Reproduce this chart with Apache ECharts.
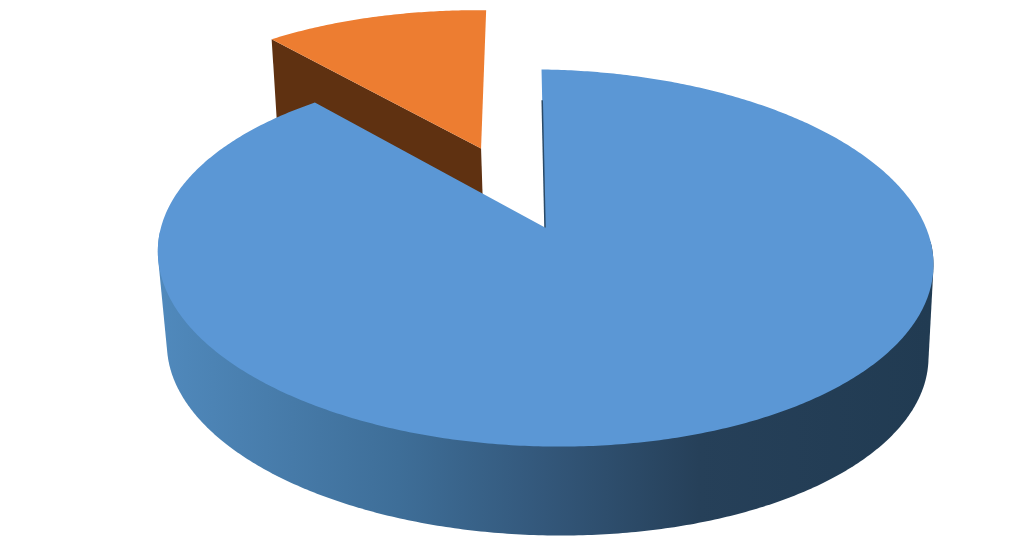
<!DOCTYPE html>
<html><head><meta charset="utf-8"><style>html,body{margin:0;padding:0;background:#fff}#c{width:1024px;height:551px}</style>
<script src="https://cdn.jsdelivr.net/npm/echarts@6/dist/echarts.min.js"></script></head>
<body><div id="c"></div><script>
const categories = ['Main share', 'Minor share'];
const values = [88.4, 11.6];
const sliceColors = ['#5B97D5', '#ED7D31'];
const sideColors = ['#2A4A68', '#5F3111'];
const explode = [0, 0.49];

const total = values.reduce((a, b) => a + b, 0);
const starts = [];
values.reduce((acc, v, i) => { starts[i] = acc; return acc + v; }, 0);

// perspective camera for the tilted disc
const CX = 545, CY = 227.5, A = 183.6, B = 382.7, C = 0.1618, D = 95.4, E = 0.018, K = 0.0833, SX = 0.022, TY = 0.012;
function proj(u, v, z) {
  const w = 1 + C * v + E * z;
  const X = B * u / w, Y = (-A * (1 - K * z) * v + D * z) / w;
  return [CX + X + SX * Y, CY + Y + TY * X];
}
function slicePoints(i) {
  const a0 = starts[i] / total * 2 * Math.PI, a1 = (starts[i] + values[i]) / total * 2 * Math.PI;
  const mid = (a0 + a1) / 2, ou = Math.sin(mid) * explode[i], ov = Math.cos(mid) * explode[i];
  const rim = (a, z, r) => proj(ou + r * Math.sin(a), ov + r * Math.cos(a), z);
  const arc = (z, f0, f1) => { const p = [], s0 = f0 === undefined ? a0 : f0, s1 = f1 === undefined ? a1 : f1; const n = Math.ceil(Math.abs(s1 - s0) / 0.01); for (let k = 0; k <= n; k++) p.push(rim(s0 + (s1 - s0) * k / n, z, 1)); return p; };
  return { a0, a1, ou, ov, rim, arc };
}
// outline of the extruded front wall: convex hull of both rims
function hull(pts) {
  const p = pts.slice().sort((a, b) => a[0] - b[0] || a[1] - b[1]);
  const cross = (o, a, b) => (a[0] - o[0]) * (b[1] - o[1]) - (a[1] - o[1]) * (b[0] - o[0]);
  const half = (list) => { const h = []; for (const q of list) { while (h.length > 1 && cross(h[h.length - 2], h[h.length - 1], q) <= 0) h.pop(); h.push(q); } h.pop(); return h; };
  return half(p).concat(half(p.reverse()));
}
const wallGradient = new echarts.graphic.LinearGradient(160, 0, 930, 0, [
  { offset: 0, color: '#5089BC' }, { offset: 0.31, color: '#3E6E98' }, { offset: 0.5, color: '#33577A' },
  { offset: 0.7, color: '#264059' }, { offset: 1, color: '#213B52' }
], true);

function renderItem(params) {
  const i = params.dataIndex, s = slicePoints(i), top = s.arc(0);
  const apexTop = proj(s.ou, s.ov, 0), apexBottom = proj(s.ou, s.ov, 1);
  const children = [];
  if (explode[i] === 0) {
    const f0 = 93 * Math.PI / 180, f1 = 267 * Math.PI / 180;
    children.push({ type: 'polygon', z2: 10, shape: { points: hull(s.arc(0, f0, f1).concat(s.arc(1, f0, f1))) }, style: { fill: wallGradient } });
    children.push({ type: 'polygon', z2: 12, shape: { points: top.concat([apexTop]) }, style: { fill: sliceColors[i] } });
    children.push({ type: 'polyline', z2: 13, shape: { points: [s.rim(s.a0, 0, 0.78), apexTop] }, style: { stroke: sideColors[i], lineWidth: 1.5, fill: null } });
  } else {
    children.push({ type: 'polygon', z2: 1, shape: { points: [apexTop, top[0], s.rim(s.a0, 1, 1), apexBottom] }, style: { fill: sideColors[i] } });
    children.push({ type: 'polygon', z2: 2, shape: { points: top.concat([apexTop]) }, style: { fill: sliceColors[i] } });
  }
  return { type: 'group', children };
}
const chart = echarts.init(document.getElementById('c'), null, { renderer: 'canvas' });
chart.setOption({
  animation: false,
  backgroundColor: '#fff',
  series: [{ type: 'custom', coordinateSystem: 'none', silent: true, renderItem,
    data: categories.map((n, i) => ({ name: n, value: [values[i]] })) }]
});
</script></body></html>
